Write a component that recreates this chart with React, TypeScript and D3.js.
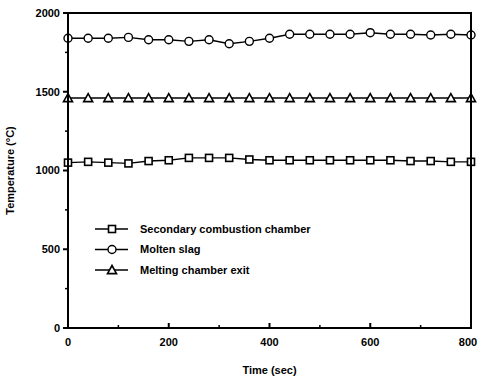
import React from 'react';
import * as d3 from 'd3';

const times = [0, 40, 80, 120, 160, 200, 240, 280, 320, 360, 400, 440, 480, 520, 560, 600, 640, 680, 720, 760, 800];
const secondary = [1050, 1055, 1050, 1045, 1060, 1065, 1080, 1080, 1080, 1070, 1065, 1065, 1065, 1065, 1065, 1065, 1065, 1060, 1060, 1055, 1055];
const moltenSlag = [1840, 1840, 1840, 1845, 1830, 1830, 1820, 1830, 1805, 1820, 1840, 1865, 1865, 1865, 1865, 1875, 1865, 1865, 1860, 1865, 1860];
const meltingExit = [1460, 1460, 1460, 1460, 1460, 1460, 1460, 1460, 1460, 1460, 1460, 1460, 1460, 1460, 1460, 1460, 1460, 1460, 1460, 1460, 1460];
const seriesNames = ['Secondary combustion chamber', 'Molten slag', 'Melting chamber exit'];
const xTicks = [0, 200, 400, 600, 800];
const yTicks = [0, 500, 1000, 1500, 2000];

const W = 478;
const H = 384;
const margin = { top: 13, right: 7, bottom: 56, left: 68 };

function Marker({ kind, x, y }: { kind: string; x: number; y: number }) {
  if (kind === 'square') {
    return <rect x={x - 3.5} y={y - 3.5} width={7} height={7} fill="white" stroke="black" strokeWidth={1.6} />;
  }
  if (kind === 'circle') {
    return <circle cx={x} cy={y} r={4} fill="white" stroke="black" strokeWidth={1.4} />;
  }
  const s = 4.5;
  return <path d={`M${x},${y - s}L${x + s},${y + s * 0.8}L${x - s},${y + s * 0.8}Z`} fill="white" stroke="black" strokeWidth={1.6} />;
}

export default function App() {
  const iw = W - margin.left - margin.right;
  const ih = H - margin.top - margin.bottom;
  const x = d3.scaleLinear().domain([0, 800]).range([0, iw]);
  const y = d3.scaleLinear().domain([0, 2000]).range([ih, 0]);
  const line = d3.line<number>().x((_, i) => x(times[i])).y(d => y(d));

  const series = [
    { name: seriesNames[0], values: secondary, kind: 'square' },
    { name: seriesNames[1], values: moltenSlag, kind: 'circle' },
    { name: seriesNames[2], values: meltingExit, kind: 'triangle' },
  ];

  const font = '"Liberation Sans", Arial, sans-serif';
  const xMinor = d3.range(100, 800, 200);
  const yMinor = d3.range(250, 2000, 500);

  return (
    <svg width={W} height={H} style={{ position: 'absolute', left: 0, top: 0, background: 'white' }} fontFamily={font}>
      <g transform={`translate(${margin.left},${margin.top})`}>
        {series.map(s => (
          <g key={s.name}>
            <path d={line(s.values) || ''} fill="none" stroke="black" strokeWidth={1.4} />
            {s.values.map((v, i) => (
              <Marker key={i} kind={s.kind} x={x(times[i])} y={y(v)} />
            ))}
          </g>
        ))}
        <rect x={0} y={0} width={iw} height={ih} fill="none" stroke="black" strokeWidth={2} />
        {xTicks.map(t => (
          <g key={t} transform={`translate(${x(t)},${ih})`}>
            <line y1={0} y2={-5} stroke="black" strokeWidth={2} />
            {/* last label nudged so it stays on the page */}
            <text x={t === 800 ? -3 : 0} y={18} textAnchor="middle" fontSize={11} fontWeight="bold">{t}</text>
          </g>
        ))}
        {xMinor.map(t => (
          <line key={t} x1={x(t)} x2={x(t)} y1={ih} y2={ih - 3} stroke="black" strokeWidth={1.5} />
        ))}
        {yTicks.map(t => (
          <g key={t} transform={`translate(0,${y(t)})`}>
            <line x1={0} x2={-5} stroke="black" strokeWidth={2} />
            <text x={-8} dy="0.35em" textAnchor="end" fontSize={11} fontWeight="bold">{t}</text>
          </g>
        ))}
        {yMinor.map(t => (
          <line key={t} x1={0} x2={-3} y1={y(t)} y2={y(t)} stroke="black" strokeWidth={1.5} />
        ))}
        <text x={iw / 2} y={ih + 46} textAnchor="middle" fontSize={11} fontWeight="bold">Time (sec)</text>
        <text transform={`translate(${-54},${ih / 2}) rotate(-90)`} textAnchor="middle" fontSize={11} fontWeight="bold">Temperature (°C)</text>
        {series.map((s, i) => {
          const ly = 216 + i * 20.5;
          return (
            <g key={s.name} transform={`translate(27,${ly})`}>
              <line x1={0} x2={33} stroke="black" strokeWidth={1.4} />
              <Marker kind={s.kind} x={17} y={0} />
              <text x={45} dy="0.35em" fontSize={11} fontWeight="bold">{s.name}</text>
            </g>
          );
        })}
      </g>
    </svg>
  );
}
